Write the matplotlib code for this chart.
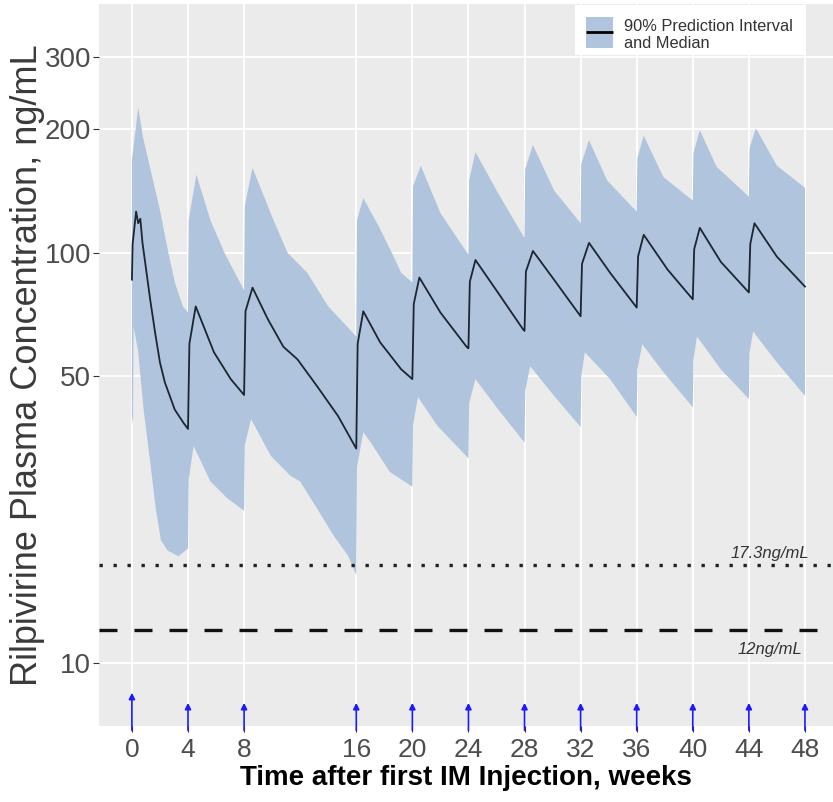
import numpy as np
import matplotlib
matplotlib.use("Agg")
import matplotlib.pyplot as plt
import matplotlib.transforms as mtransforms
from matplotlib.patches import Rectangle
from matplotlib.ticker import FixedLocator, NullLocator

plt.rcParams['font.family'] = ['Liberation Sans', 'DejaVu Sans']

# median concentration (ng/mL) vs weeks after first IM injection
medianWeeks = [0.0, 0.05, 0.3, 0.45, 0.6, 0.75, 1.3, 1.65, 2.0, 2.35, 3.05, 3.65, 4.0,
               4.1, 4.55, 5.85, 7.05, 8.0,
               8.1, 8.6, 9.7, 10.8, 11.8, 13.2, 14.7, 16.0,
               16.1, 16.5, 17.7, 19.2, 20.0,
               20.1, 20.5, 22.0, 23.9, 24.0,
               24.1, 24.5, 26.1, 27.9, 28.0,
               28.1, 28.6, 30.1, 32.0,
               32.1, 32.6, 34.1, 36.0,
               36.1, 36.5, 38.2, 40.0,
               40.1, 40.5, 42.0, 44.0,
               44.1, 44.4, 46.0, 48.0]
medianConc = [86, 105, 126, 118, 121, 106, 77, 64, 54, 48.3, 41.5, 38.6, 37.2,
              60, 74, 57.2, 49.2, 45,
              72, 82.2, 68.8, 59, 55, 47.3, 40, 33.3,
              60, 72, 60.5, 52, 49.2,
              75, 87, 71.5, 58.8, 58.5,
              85, 96, 80, 65, 64.5,
              90, 101, 86, 70,
              94, 105.7, 89.4, 73.5,
              98, 110.6, 91, 77,
              102, 115, 95, 80,
              105, 118, 97.8, 82.7]

# upper limit of the 90% prediction interval
upperWeeks = [0.0, 0.45, 0.78, 1.28, 2.0, 2.6, 3.07, 3.64, 4.0,
              4.05, 4.6, 5.6, 6.6, 8.0,
              8.05, 8.6, 10.1, 11.1, 12.5, 14.0, 16.0,
              16.05, 16.5, 17.6, 18.6, 19.2, 20.0,
              20.05, 20.6, 22.0, 23.9, 24.0,
              24.05, 24.5, 26.1, 27.9, 28.0,
              28.05, 28.6, 30.1, 32.0,
              32.05, 32.6, 33.9, 36.0,
              36.05, 36.5, 37.9, 40.0,
              40.05, 40.5, 41.7, 44.0,
              44.05, 44.5, 46.0, 48.0]
upperConc = [168, 226, 192, 162, 127, 100, 84.5, 74, 71.5,
             120, 155, 120, 100, 81,
             130, 161, 120, 100, 89.4, 74, 62.5,
             120, 136, 116, 99, 89.4, 84.6,
             145, 163, 125, 100, 99,
             150, 176, 140, 110, 109,
             160, 183, 142, 118,
             165, 188, 150, 126,
             170, 193, 153, 134,
             175, 199, 162, 137,
             180, 201, 163, 144]

# lower limit of the 90% prediction interval
lowerWeeks = [0.0, 0.08, 0.12, 0.43, 0.85, 1.35, 1.7, 2.07, 2.55, 3.3, 4.0,
              4.05, 4.4, 5.6, 6.8, 8.0,
              8.05, 8.5, 9.9, 11.3, 12.0, 13.2, 14.4, 15.4, 16.0,
              16.05, 16.5, 17.0, 18.4, 20.0,
              20.05, 20.4, 21.8, 23.9, 24.0,
              24.05, 24.5, 26.1, 27.9, 28.0,
              28.05, 28.4, 30.1, 32.0,
              32.05, 32.3, 34.1, 36.0,
              36.05, 36.4, 37.9, 40.0,
              40.05, 40.3, 42.0, 44.0,
              44.05, 44.3, 46.0, 48.0]
lowerConc = [38, 40, 66, 58, 41, 30, 23.8, 19.9, 18.8, 18.2, 19,
             28, 33.8, 27.7, 25.2, 23.5,
             34, 39.3, 32, 28.6, 27.7, 23.8, 20.4, 18.3, 16.4,
             30, 36.5, 34.6, 29.2, 26.9,
             38, 44.5, 37.8, 31.8, 31.5,
             43, 49.2, 41.6, 34.8, 34.5,
             46, 52.9, 44.8, 37.6,
             50, 57.2, 49.2, 39.8,
             52, 59.8, 51.2, 42.0,
             55, 62.5, 52, 44.0,
             57, 64.3, 54, 44.8]

injectionWeeks = [0, 4, 8, 16, 20, 24, 28, 32, 36, 40, 44, 48]
xTicks = [0, 4, 8, 16, 20, 24, 28, 32, 36, 40, 44, 48]
yTicks = [10, 50, 100, 200, 300]
thresholds = [17.3, 12]
thresholdLabels = ["17.3ng/mL", "12ng/mL"]
legendLabel = "90% Prediction Interval\nand Median"

bandColor = '#b0c4de'
panelColor = '#ebebeb'

fig = plt.figure(figsize=(8.33, 8.02), dpi=100)
ax = fig.add_axes([0.1188, 0.0948, 0.8812, 0.9002])
ax.set_facecolor(panelColor)
for s in ax.spines.values():
    s.set_visible(False)

ax.set_yscale('log')
ax.set_xlim(-2.35, 50.0)
ax.set_ylim(7.02, 404)

ax.xaxis.set_major_locator(FixedLocator(xTicks))
ax.set_xticklabels([str(v) for v in xTicks])
ax.yaxis.set_major_locator(FixedLocator(yTicks))
ax.yaxis.set_minor_locator(NullLocator())
ax.set_yticklabels([str(v) for v in yTicks])
ax.tick_params(axis='y', labelsize=20, labelcolor='#4d4d4d', color='#333333',
               length=4.5, width=0.8, pad=1)
ax.tick_params(axis='x', labelsize=19, labelcolor='#4d4d4d', color='#333333',
               length=4.5, width=0.8, pad=4)

ax.grid(True, color='white', lw=1.3)
ax.set_axisbelow(True)

# prediction interval band and median
bandX = np.concatenate([upperWeeks, lowerWeeks[::-1]])
bandY = np.concatenate([upperConc, lowerConc[::-1]])
ax.fill(bandX, bandY, color=bandColor, lw=0, zorder=2)
ax.plot(medianWeeks, medianConc, color='#1c2530', lw=1.3, zorder=3)

# threshold lines
ax.axhline(thresholds[0], color='#222222', lw=2.4, ls=(0, (1, 3.2)), zorder=4)
ax.axhline(thresholds[1], color='#111111', lw=2.4, ls=(0, (5.4, 5.1)), zorder=4)
ax.annotate(thresholdLabels[0], xy=(45.5, thresholds[0]), xytext=(0, 8.6),
            textcoords='offset points', ha='center', va='center',
            fontsize=12, style='italic', color='#333333', zorder=5)
ax.annotate(thresholdLabels[1], xy=(45.5, thresholds[1]), xytext=(0, -13.7),
            textcoords='offset points', ha='center', va='center',
            fontsize=12, style='italic', color='#333333', zorder=5)

# injection arrows
trans = mtransforms.blended_transform_factory(ax.transData, ax.transAxes)
for i, wk in enumerate(injectionWeeks):
    tip = 0.046 if i == 0 else 0.032
    ax.annotate('', xy=(wk, tip), xytext=(wk, -0.006), xycoords=trans,
                textcoords=trans, annotation_clip=False,
                arrowprops=dict(arrowstyle='-|>', color='#1a1aff', lw=1.2,
                                mutation_scale=9, shrinkA=0, shrinkB=0))

ax.set_xlabel("Time after first IM Injection, weeks", fontsize=20,
              fontweight='bold', labelpad=2)
ax.set_ylabel("Rilpivirine Plasma Concentration, ng/mL", fontsize=26,
              color='#3a3a3a', labelpad=0)

# legend box drawn in axes coordinates
ax.add_patch(Rectangle((0.6485, 0.9294), 0.3134, 0.0692, transform=ax.transAxes,
                       facecolor='white', edgecolor='none', zorder=6))
ax.add_patch(Rectangle((0.6635, 0.9391), 0.0368, 0.0429, transform=ax.transAxes,
                       facecolor=bandColor, edgecolor='none', zorder=7))
ax.plot([0.6635, 0.7003], [0.9612, 0.9612], transform=ax.transAxes,
        color='black', lw=2, solid_capstyle='butt', zorder=8)
ax.text(0.7153, 0.9571, legendLabel, transform=ax.transAxes, ha='left',
        va='center', fontsize=11.8, color='#333333', linespacing=1.12, zorder=8)

fig.savefig('out.png', dpi=100)
